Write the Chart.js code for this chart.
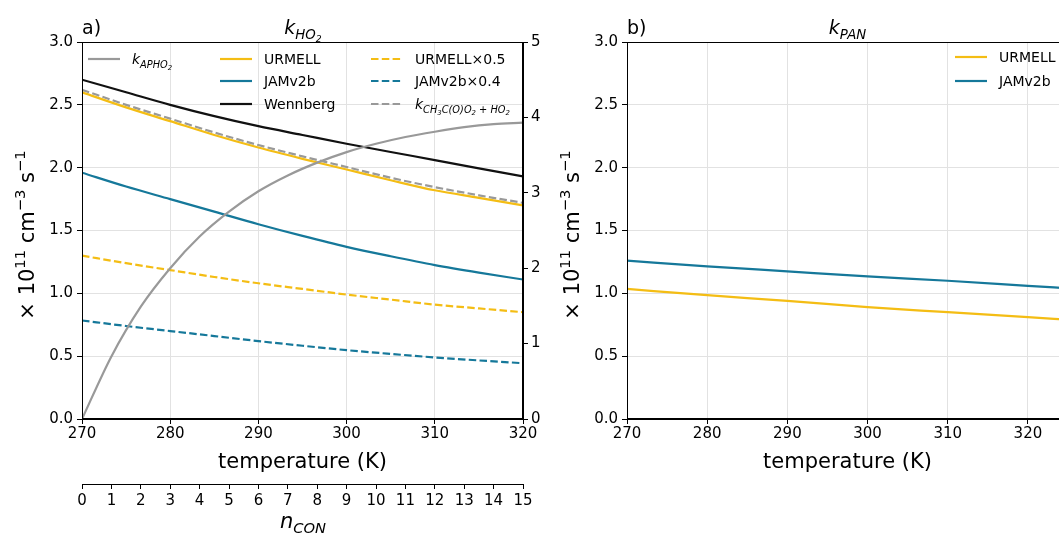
<!DOCTYPE html>
<html><head><meta charset="utf-8">
<script src="https://cdn.jsdelivr.net/npm/chart.js@4.4.0/dist/chart.umd.min.js"></script>
<style>
html,body{margin:0;padding:0;background:#fff;width:1059px;height:535px;overflow:hidden;position:relative}
canvas{position:absolute;top:0}
</style></head><body>
<canvas id="ca" width="560" height="535" style="left:0"></canvas>
<canvas id="cb" width="540" height="535" style="left:560px"></canvas>
<script>
// ---------- data ----------
const temperature = [270,275,280,285,290,295,300,305,310,315,320];
const urmell      = [2.60,2.48,2.37,2.26,2.16,2.07,1.985,1.90,1.82,1.76,1.70];
const jamv2b      = [1.96,1.85,1.75,1.65,1.55,1.457,1.37,1.295,1.225,1.165,1.11];
const wennberg    = [2.70,2.60,2.50,2.41,2.33,2.26,2.19,2.125,2.06,1.995,1.93];
const urmellHalf  = [1.30,1.24,1.185,1.13,1.08,1.035,0.99,0.95,0.91,0.88,0.85];
const jamv2bX04   = [0.784,0.74,0.70,0.66,0.62,0.583,0.548,0.518,0.49,0.466,0.444];
const kCH3CO3HO2  = [2.62,2.50,2.39,2.28,2.18,2.09,2.005,1.92,1.845,1.78,1.72];
const nCon        = [0,1,2,3,4,5,6,7,8,9,10,11,12,13,14,15];
const kAPHO2      = [0,0.83,1.49,2.00,2.42,2.75,3.02,3.23,3.40,3.54,3.65,3.74,3.81,3.87,3.91,3.93];

const temperatureB = [270,280,290,300,310,320,330];
const urmellPAN    = [1.035,0.985,0.94,0.89,0.85,0.81,0.77];
const jamv2bPAN    = [1.26,1.215,1.175,1.135,1.10,1.06,1.02];

const tempTicks  = [270,280,290,300,310,320];
const nConTicks  = [0,1,2,3,4,5,6,7,8,9,10,11,12,13,14,15];
const kTicks     = [0,0.5,1.0,1.5,2.0,2.5,3.0];
const rightTicks = [0,1,2,3,4,5];

// ---------- style ----------
const FF = '"DejaVu Sans", sans-serif';
const YEL = '#f4bd14', BLU = '#15789a', GRY = '#999999', BLK = '#111111';
const DASH = [7.5,3.3];
const GRID = '#e2e2e2';
const LW = 2.2;

function pts(xs, ys){ return xs.map((x,i)=>({x:x, y:ys[i]})); }
function setTicks(arr){ return function(s){ s.ticks = arr.map(v=>({value:v})); }; }

function rich(ctx, parts, x, y, align){
  let w = 0;
  for (const p of parts){ ctx.font = (p[2]?'italic ':'') + p[1] + 'px ' + FF; w += ctx.measureText(p[0]).width; }
  let cx = align==='center' ? x - w/2 : (align==='right' ? x - w : x);
  ctx.textAlign = 'left'; ctx.textBaseline = 'alphabetic'; ctx.fillStyle = '#000';
  for (const p of parts){
    ctx.font = (p[2]?'italic ':'') + p[1] + 'px ' + FF;
    ctx.fillText(p[0], cx, y + (p[3]||0));
    cx += ctx.measureText(p[0]).width;
  }
}
function legendItem(ctx, x, y, color, dash, parts){
  ctx.save();
  ctx.strokeStyle = color; ctx.lineWidth = LW; ctx.setLineDash(dash || []);
  ctx.beginPath(); ctx.moveTo(x, y); ctx.lineTo(x+32, y); ctx.stroke();
  ctx.restore();
  rich(ctx, parts, x+44, y+5, 'left');
}
function frame(ctx, a){
  ctx.save(); ctx.strokeStyle='#000'; ctx.lineWidth=1;
  ctx.strokeRect(Math.round(a.left)+0.5, Math.round(a.top)+0.5, Math.round(a.right-a.left)-1, Math.round(a.bottom-a.top)-1);
  ctx.restore();
}
function yLabel(ctx, x, y){
  ctx.save(); ctx.translate(x, y); ctx.rotate(-Math.PI/2);
  rich(ctx, [['× 10',21],['11',14.7,false,-9],[' cm',21],['−3',14.7,false,-9],[' s',21],['−1',14.7,false,-9]], 0, 0, 'center');
  ctx.restore();
}

const L = 14;
const plugA = { id:'decorA', afterDraw(chart){
  const ctx = chart.ctx, a = chart.chartArea;
  ctx.save();
  frame(ctx, a);
  rich(ctx, [['a)',19]], 82, 34, 'left');
  rich(ctx, [['k',19,true],['HO',13.3,true,5],['2',9.3,true,8]], 303, 34, 'center');
  yLabel(ctx, 34, 235);
  rich(ctx, [['n',21,true],['CON',14.7,true,5]], 303, 528, 'center');
  // legend
  legendItem(ctx, 88, 59, GRY, null, [['k',L,true],['APHO',9.8,true,3.5],['2',6.9,true,5.5]]);
  legendItem(ctx, 220, 59, YEL, null, [['URMELL',L]]);
  legendItem(ctx, 220, 81, BLU, null, [['JAMv2b',L]]);
  legendItem(ctx, 220, 104, BLK, null, [['Wennberg',L]]);
  legendItem(ctx, 371, 59, YEL, DASH, [['URMELL×0.5',L]]);
  legendItem(ctx, 371, 81, BLU, DASH, [['JAMv2b×0.4',L]]);
  legendItem(ctx, 371, 104, GRY, DASH, [['k',L,true],['CH',9.8,true,3.5],['3',6.9,true,5.5],['C(O)O',9.8,true,3.5],['2',6.9,true,5.5],[' + HO',9.8,true,3.5],['2',6.9,true,5.5]]);
  ctx.restore();
}};
const plugB = { id:'decorB', afterDraw(chart){
  const ctx = chart.ctx, a = chart.chartArea;
  ctx.save();
  frame(ctx, a);
  rich(ctx, [['b)',19]], a.left, 34, 'left');
  rich(ctx, [['k',19,true],['PAN',13.3,true,5]], (a.left+a.right)/2, 34, 'center');
  yLabel(ctx, a.left-48, 235);
  legendItem(ctx, 955-560, 57, YEL, null, [['URMELL',L]]);
  legendItem(ctx, 955-560, 81, BLU, null, [['JAMv2b',L]]);
  ctx.restore();
}};

function line(label, data, color, dash, xID, yID){
  return { label, data, borderColor: color, backgroundColor: color, borderWidth: LW,
    borderDash: dash || [], pointRadius: 0, fill: false, cubicInterpolationMode: 'monotone',
    xAxisID: xID || 'x', yAxisID: yID || 'y' };
}
const tickFont = {family: FF, size: 15};
function xAxis(min, max, ticks){
  return { type:'linear', position:'bottom', weight:0, min, max,
    afterBuildTicks: setTicks(ticks),
    ticks:{font:tickFont, color:'#000', padding:1, maxRotation:0, autoSkip:false},
    grid:{color:GRID, lineWidth:1, tickColor:'#000', tickLength:5, drawTicks:true},
    border:{color:'#000', width:1},
    title:{display:true, text:'temperature (K)', font:{family:FF,size:21}, color:'#000', padding:{top:0,bottom:9}},
    afterFit(s){ s.height = 65; } };
}
function yAxis(w){
  return { type:'linear', position:'left', min:0, max:3,
    afterBuildTicks: setTicks(kTicks),
    ticks:{font:tickFont, color:'#000', padding:4, callback:v=>Number(v).toFixed(1)},
    grid:{color:GRID, lineWidth:1, tickColor:'#000', tickLength:5},
    border:{color:'#000', width:1},
    afterFit(s){ s.width = w; } };
}
const common = { responsive:false, animation:false, devicePixelRatio:1,
  plugins:{legend:{display:false}, tooltip:{enabled:false}} };

new Chart(document.getElementById('ca'), {
  type:'line',
  data:{ datasets:[
    line('kAPHO2', pts(nCon, kAPHO2), GRY, null, 'x2', 'y2'),
    line('URMELL', pts(temperature, urmell), YEL),
    line('kCH3C(O)O2+HO2', pts(temperature, kCH3CO3HO2), GRY, DASH),
    line('JAMv2b', pts(temperature, jamv2b), BLU),
    line('Wennberg', pts(temperature, wennberg), BLK),
    line('URMELL×0.5', pts(temperature, urmellHalf), YEL, DASH),
    line('JAMv2b×0.4', pts(temperature, jamv2bX04), BLU, DASH)
  ]},
  options: Object.assign({}, common, {
    layout:{padding:{top:42, left:0, right:0, bottom:0}},
    scales:{
      x: xAxis(270, 320, tempTicks),
      x2: { type:'linear', position:'bottom', weight:1, min:0, max:15,
        afterBuildTicks: setTicks(nConTicks),
        ticks:{font:tickFont, color:'#000', padding:3, maxRotation:0, autoSkip:false},
        grid:{drawOnChartArea:false, tickColor:'#000', tickLength:5},
        border:{color:'#000', width:1},
        afterFit(s){ s.height = 51; } },
      y: yAxis(82),
      y2: { type:'linear', position:'right', min:0, max:5,
        afterBuildTicks: setTicks(rightTicks),
        ticks:{font:tickFont, color:'#000', padding:3},
        grid:{drawOnChartArea:false, tickColor:'#000', tickLength:5},
        border:{color:'#000', width:1},
        afterFit(s){ s.width = 37; } }
    }
  }),
  plugins:[plugA]
});

new Chart(document.getElementById('cb'), {
  type:'line',
  data:{ datasets:[
    line('URMELL', pts(temperatureB, urmellPAN), YEL),
    line('JAMv2b', pts(temperatureB, jamv2bPAN), BLU)
  ]},
  options: Object.assign({}, common, {
    layout:{padding:{top:42, left:0, right:32, bottom:51}},
    scales:{ x: xAxis(270, 325, tempTicks), y: yAxis(67) }
  }),
  plugins:[plugB]
});
</script>
</body></html>
